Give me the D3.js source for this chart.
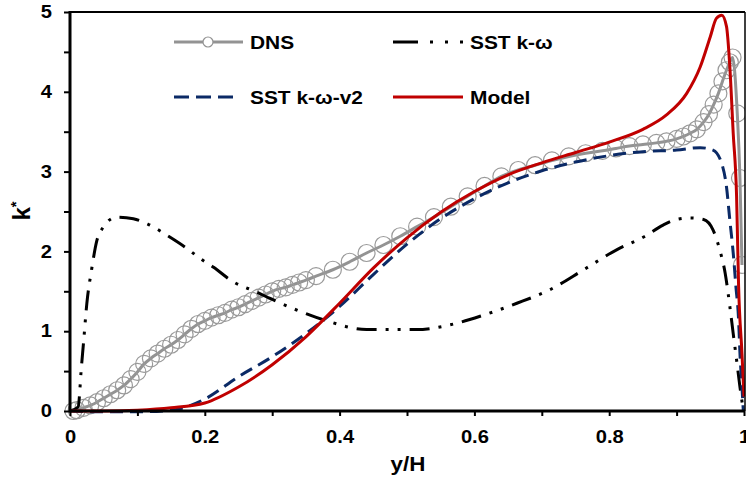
<!doctype html>
<html>
<head>
<meta charset="utf-8">
<script src="https://d3js.org/d3.v7.min.js"></script>
<style>
  body { margin: 0; background: #fff; }
  text { font-family: "Liberation Sans", Arial, sans-serif; font-weight: bold; }
</style>
</head>
<body>
<script>
// DNS data
var dnsX = [0.005,0.01,0.02,0.03,0.04,0.05,0.06,0.07,0.08,0.09,0.10,0.11,0.12,0.13,0.14,0.15,0.16,0.17,0.18,0.19,
            0.20,0.21,0.22,0.23,0.24,0.25,0.26,0.27,0.28,0.29,0.30,0.31,0.32,0.33,0.34,0.35,0.365,0.39,0.415,0.44,
            0.465,0.49,0.515,0.54,0.565,0.59,0.615,0.64,0.665,0.69,0.715,0.74,0.765,0.79,0.81,0.83,0.85,0.87,0.885,0.90,
            0.91,0.92,0.93,0.94,0.948,0.955,0.962,0.968,0.974,0.979,0.983,0.99,0.994,0.997];
var dnsY = [0.0,0.01,0.04,0.07,0.11,0.16,0.21,0.26,0.32,0.40,0.49,0.59,0.66,0.72,0.78,0.83,0.89,0.96,1.03,1.09,
            1.13,1.17,1.20,1.23,1.27,1.30,1.34,1.38,1.42,1.46,1.50,1.53,1.55,1.58,1.61,1.64,1.69,1.77,1.87,1.98,
            2.08,2.19,2.31,2.43,2.56,2.69,2.82,2.94,3.02,3.08,3.14,3.19,3.23,3.26,3.29,3.32,3.34,3.36,3.38,3.41,
            3.44,3.48,3.53,3.62,3.72,3.84,3.98,4.13,4.27,4.37,4.43,3.73,2.92,1.83];

// SST k-omega
var sstX = [0,0.012,0.017,0.02,0.025,0.032,0.04,0.049,0.069,0.094,0.116,0.148,0.173,0.195,0.213,0.242,0.277,0.297,0.341,0.381,
            0.44,0.514,0.564,0.613,0.663,0.712,0.762,0.811,0.851,0.88,0.90,0.92,0.94,0.954,0.964,0.972,0.979,0.984,0.989,0.994,0.999];
var sstY = [0,0.05,0.56,0.85,1.35,1.77,2.14,2.30,2.43,2.41,2.34,2.18,2.04,1.90,1.80,1.62,1.49,1.41,1.25,1.13,
            1.02,1.02,1.08,1.20,1.35,1.52,1.77,2.02,2.18,2.33,2.40,2.42,2.40,2.27,2.02,1.73,1.31,0.97,0.64,0.30,0.01];

// SST k-omega-v2
var v2X = [0,0.05,0.10,0.15,0.20,0.25,0.30,0.35,0.40,0.45,0.50,0.55,0.60,0.65,0.70,0.75,0.80,0.85,0.90,0.935,
           0.954,0.967,0.974,0.979,0.984,0.988,0.992,0.994,0.997,0.999];
var v2Y = [0,-0.01,-0.01,0.01,0.15,0.43,0.68,0.97,1.31,1.71,2.09,2.41,2.66,2.86,3.01,3.12,3.20,3.25,3.27,3.30,
           3.27,3.10,2.81,2.39,1.98,1.56,1.14,0.72,0.30,0.0];

// Model
var modelX = [0,0.05,0.10,0.15,0.20,0.25,0.30,0.35,0.40,0.45,0.50,0.55,0.60,0.65,0.70,0.75,0.80,0.85,0.885,0.915,
              0.935,0.95,0.959,0.967,0.974,0.979,0.984,0.989,0.992,0.997,1.0];
var modelY = [0,0.0,0.01,0.04,0.10,0.30,0.58,0.93,1.35,1.79,2.17,2.49,2.75,2.96,3.11,3.24,3.37,3.53,3.71,3.98,
              4.31,4.69,4.92,4.96,4.82,4.31,3.48,2.69,1.56,0.72,0.18];

var xTicks = [0, 0.2, 0.4, 0.6, 0.8, 1];
var yTicks = [0, 1, 2, 3, 4, 5];

var W = 746, H = 477;
var pLeft = 70, pRight = 744, pTop = 12, pBottom = 411;

var svg = d3.select("body").append("svg").attr("width", W).attr("height", H);

var x = d3.scaleLinear().domain([0, 1]).range([pLeft, pRight]);
var y = d3.scaleLinear().domain([0, 5]).range([pBottom, pTop]);

function zip(xs, ys) { return xs.map(function(v, i) { return [v, ys[i]]; }); }

var line = d3.line()
    .x(function(d) { return x(d[0]); })
    .y(function(d) { return y(d[1]); })
    .curve(d3.curveMonotoneX);

svg.append("clipPath").attr("id", "clip")
  .append("rect").attr("x", 0).attr("y", 0).attr("width", pRight + 1).attr("height", H);

var plot = svg.append("g").attr("clip-path", "url(#clip)");

// DNS
var dns = zip(dnsX, dnsY);
plot.append("path").attr("d", line(dns))
    .attr("fill", "none").attr("stroke", "#939393").attr("stroke-width", 3);
plot.selectAll("circle.dns").data(dns).enter().append("circle")
    .attr("class", "dns")
    .attr("cx", function(d) { return x(d[0]); })
    .attr("cy", function(d) { return y(d[1]); })
    .attr("r", 8.5)
    .attr("fill", "none").attr("stroke", "#9a9a9a").attr("stroke-width", 1.2);

// SST k-omega
plot.append("path").attr("d", line(zip(sstX, sstY)))
    .attr("fill", "none").attr("stroke", "#000").attr("stroke-width", 3)
    .attr("stroke-dasharray", "20,9,3,9,3,9");

// SST k-omega-v2
plot.append("path").attr("d", line(zip(v2X, v2Y)))
    .attr("fill", "none").attr("stroke", "#0b2a66").attr("stroke-width", 3)
    .attr("stroke-dasharray", "13,7");

// Model
plot.append("path").attr("d", line(zip(modelX, modelY)))
    .attr("fill", "none").attr("stroke", "#c00000").attr("stroke-width", 3);

// frame
svg.append("line").attr("x1", pLeft).attr("x2", pRight + 1).attr("y1", pTop).attr("y2", pTop)
    .attr("stroke", "#000").attr("stroke-width", 2);
svg.append("line").attr("x1", pRight + 1).attr("x2", pRight + 1).attr("y1", pTop).attr("y2", pBottom)
    .attr("stroke", "#000").attr("stroke-width", 1.5);

// axes
var xAxis = d3.axisBottom(x).tickValues(d3.range(0, 1.01, 0.1)).tickSize(5)
    .tickFormat(function(d) { return xTicks.some(function(t) { return Math.abs(t - d) < 1e-6; }) ? String(+d.toFixed(1)) : ""; });
var gx = svg.append("g").attr("transform", "translate(0," + pBottom + ")").call(xAxis);
gx.select(".domain").attr("stroke-width", 3).attr("d", "M" + (pLeft - 1) + ",0H" + (pRight + 1));
gx.selectAll(".tick line").attr("stroke-width", 2);
gx.selectAll(".tick text").attr("font-size", 18).attr("y", 32).attr("dy", null).attr("fill", "#000")
    .attr("transform", "scale(1.12,1)")
    .style("font-family", "Liberation Sans, Arial, sans-serif").style("font-weight", "bold");

var yAxis = d3.axisLeft(y).tickValues(d3.range(0, 5.01, 0.5)).tickSize(6)
    .tickFormat(function(d) { return yTicks.indexOf(d) >= 0 ? d : ""; });
var gy = svg.append("g").attr("transform", "translate(" + pLeft + ",0)").call(yAxis);
gy.select(".domain").attr("stroke-width", 3).attr("d", "M0," + (pTop - 1) + "V" + (pBottom + 1));
gy.selectAll(".tick line").attr("stroke-width", 2);
gy.selectAll(".tick text").attr("font-size", 18).attr("x", -16).attr("fill", "#000")
    .attr("transform", "scale(1.12,1)")
    .style("font-family", "Liberation Sans, Arial, sans-serif").style("font-weight", "bold");

// axis titles
svg.append("text").attr("transform", "translate(408,471) scale(1.12,1)")
    .attr("text-anchor", "middle").attr("font-size", 20).text("y/H");
var kt = svg.append("text").attr("transform", "translate(30,211) rotate(-90) scale(1.05,1)")
    .attr("text-anchor", "middle").attr("font-size", 23);
kt.append("tspan").text("k");
kt.append("tspan").attr("font-size", 14).attr("dy", -9).text("*");

// legend
var lg = svg.append("g");
function legText(tx, ty, s) {
  lg.append("text").attr("transform", "translate(" + tx + "," + ty + ") scale(1.1,1)")
    .attr("font-size", 19).text(s);
}
lg.append("line").attr("x1", 174).attr("x2", 243).attr("y1", 42).attr("y2", 42)
    .attr("stroke", "#939393").attr("stroke-width", 3);
lg.append("circle").attr("cx", 208).attr("cy", 42).attr("r", 5)
    .attr("fill", "#fff").attr("stroke", "#939393").attr("stroke-width", 1.2);
legText(250, 49, "DNS");

lg.append("line").attr("x1", 393).attr("x2", 464).attr("y1", 42).attr("y2", 42)
    .attr("stroke", "#000").attr("stroke-width", 3).attr("stroke-dasharray", "25,12,3,12,3,12,3");
legText(470, 49, "SST k-ω");

lg.append("line").attr("x1", 174).attr("x2", 234).attr("y1", 97).attr("y2", 97)
    .attr("stroke", "#0b2a66").attr("stroke-width", 3).attr("stroke-dasharray", "15,7");
legText(250, 104, "SST k-ω-v2");

lg.append("line").attr("x1", 393).attr("x2", 463).attr("y1", 97).attr("y2", 97)
    .attr("stroke", "#c00000").attr("stroke-width", 3);
legText(470, 104, "Model");
</script>
</body>
</html>
